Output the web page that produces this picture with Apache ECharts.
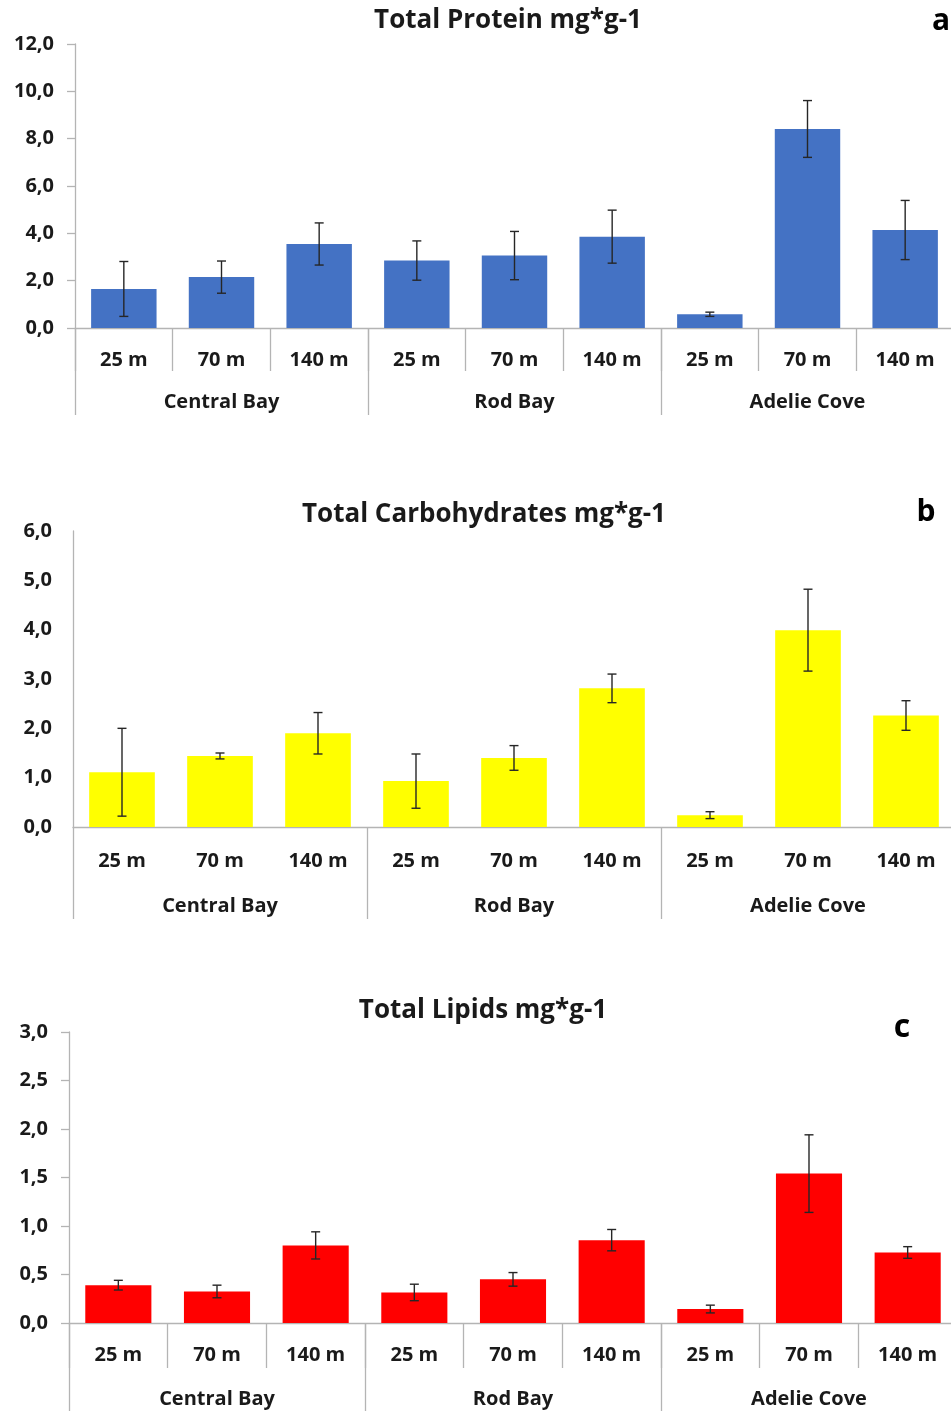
<!DOCTYPE html>
<html>
<head>
<meta charset="utf-8">
<style>
  html, body { margin: 0; padding: 0; background: #fff; overflow: hidden; }
  #chart { width: 980px; height: 1411px; }
</style>
<script src="https://cdn.jsdelivr.net/npm/echarts@6/dist/echarts.min.js"></script>
</head>
<body>
<div id="chart"></div>
<script>
// Sampling depths within each site, and the sites themselves
const depths = ['25 m', '70 m', '140 m', '25 m', '70 m', '140 m', '25 m', '70 m', '140 m'];
const sites = ['Central Bay', 'Rod Bay', 'Adelie Cove'];

// Total protein (mg*g-1): mean and standard deviation
const proteinMean = [1.65, 2.15, 3.55, 2.85, 3.06, 3.86, 0.58, 8.41, 4.14];
const proteinSd   = [1.16, 0.68, 0.89, 0.83, 1.02, 1.12, 0.09, 1.20, 1.25];

// Total carbohydrates (mg*g-1)
const carbMean = [1.11, 1.44, 1.90, 0.93, 1.40, 2.81, 0.24, 3.99, 2.26];
const carbSd   = [0.89, 0.06, 0.42, 0.55, 0.25, 0.29, 0.07, 0.83, 0.30];

// Total lipids (mg*g-1)
const lipidMean = [0.39, 0.325, 0.80, 0.315, 0.45, 0.854, 0.144, 1.54, 0.727];
const lipidSd   = [0.05, 0.065, 0.14, 0.085, 0.07, 0.11, 0.04, 0.40, 0.06];

// Value axis ranges
const proteinAxis = { max: 12, interval: 2 };
const carbAxis = { max: 6, interval: 1 };
const lipidAxis = { max: 3, interval: 0.5 };

const FONT = 'Open Sans';
const AXIS_GRAY = '#b4b4b4';
const TEXT = '#1a1a1a';

// the plot areas run slightly past the right edge of the 951px view
const panels = [
  { title: 'Total Protein mg*g-1', letter: 'a', mean: proteinMean, sd: proteinSd, axis: proteinAxis,
    color: '#4472C4', grid: { left: 75, top: 44, width: 879, height: 284 },
    yTicks: true, depthTicks: 43, siteTicks: 87, depthMargin: 22, siteMargin: 64,
    titlePos: [508, 21], letterPos: [941, 21], letterSize: 30 },
  { title: 'Total Carbohydrates mg*g-1', letter: 'b', mean: carbMean, sd: carbSd, axis: carbAxis,
    color: '#FFFF00', grid: { left: 73, top: 531, width: 882, height: 296 },
    yTicks: false, depthTicks: 0, siteTicks: 92, depthMargin: 24, siteMargin: 69,
    titlePos: [484, 515], letterPos: [926, 512], letterSize: 30 },
  { title: 'Total Lipids mg*g-1', letter: 'c', mean: lipidMean, sd: lipidSd, axis: lipidAxis,
    color: '#FF0000', grid: { left: 69, top: 1032, width: 888, height: 291 },
    yTicks: true, depthTicks: 45, siteTicks: 100, depthMargin: 22, siteMargin: 66,
    titlePos: [483, 1011], letterPos: [902, 1028], letterSize: 32 }
];

const grid = [], xAxis = [], yAxis = [], series = [], graphic = [];

panels.forEach((p, k) => {
  grid.push(p.grid);

  // depth labels directly under the bars
  xAxis.push({
    type: 'category', gridIndex: k, data: depths, position: 'bottom',
    axisLine: { show: true, lineStyle: { color: AXIS_GRAY, width: 1.3 } },
    axisTick: { show: p.depthTicks > 0, length: p.depthTicks, lineStyle: { color: AXIS_GRAY, width: 1.3 } },
    axisLabel: { interval: 0, margin: p.depthMargin, fontFamily: FONT, fontWeight: 'bold', fontSize: 20, color: TEXT },
    splitLine: { show: false }
  });
  // site labels on a second row
  xAxis.push({
    type: 'category', gridIndex: k, data: sites, position: 'bottom',
    axisLine: { show: false },
    axisTick: { show: true, length: p.siteTicks, lineStyle: { color: AXIS_GRAY, width: 1.3 } },
    axisLabel: { interval: 0, margin: p.siteMargin, fontFamily: FONT, fontWeight: 'bold', fontSize: 20, color: TEXT },
    splitLine: { show: false }
  });

  yAxis.push({
    type: 'value', gridIndex: k, min: 0, max: p.axis.max, interval: p.axis.interval,
    axisLine: { show: true, lineStyle: { color: AXIS_GRAY, width: 1.3 } },
    axisTick: { show: p.yTicks, length: 8, lineStyle: { color: AXIS_GRAY, width: 1.3 } },
    splitLine: { show: false },
    axisLabel: {
      margin: 21, fontFamily: FONT, fontWeight: 'bold', fontSize: 20, color: TEXT,
      formatter: v => v.toFixed(1).replace('.', ',')
    }
  });

  series.push({
    type: 'bar', xAxisIndex: 2 * k, yAxisIndex: k,
    data: p.mean, barCategoryGap: '33%',
    itemStyle: { color: p.color }
  });

  // error bars: mean ± sd with short caps
  series.push({
    type: 'custom', xAxisIndex: 2 * k, yAxisIndex: k, z: 5,
    data: p.mean.map((m, i) => [i, m, p.sd[i]]),
    encode: { x: 0, y: 1 },
    renderItem: (params, api) => {
      const i = api.value(0), m = api.value(1), e = api.value(2);
      const hi = api.coord([i, m + e]);
      const lo = api.coord([i, m - e]);
      const cap = 4.5;
      const style = { stroke: '#262626', lineWidth: 1.4 };
      return {
        type: 'group',
        children: [
          { type: 'line', shape: { x1: hi[0], y1: hi[1], x2: lo[0], y2: lo[1] }, style },
          { type: 'line', shape: { x1: hi[0] - cap, y1: hi[1], x2: hi[0] + cap, y2: hi[1] }, style },
          { type: 'line', shape: { x1: lo[0] - cap, y1: lo[1], x2: lo[0] + cap, y2: lo[1] }, style }
        ]
      };
    }
  });

  graphic.push({
    type: 'text', x: p.titlePos[0], y: p.titlePos[1],
    style: { text: p.title, fontFamily: FONT, fontWeight: 'bold', fontSize: 26, fill: TEXT,
             textAlign: 'center', textVerticalAlign: 'middle' }
  });
  graphic.push({
    type: 'text', x: p.letterPos[0], y: p.letterPos[1],
    style: { text: p.letter, fontFamily: FONT, fontWeight: 'bold', fontSize: p.letterSize, fill: '#000',
             textAlign: 'center', textVerticalAlign: 'middle' }
  });
});

const chart = echarts.init(document.getElementById('chart'), null, { renderer: 'canvas' });
chart.setOption({
  animation: false,
  backgroundColor: '#ffffff',
  grid, xAxis, yAxis, series, graphic
});
</script>
</body>
</html>
